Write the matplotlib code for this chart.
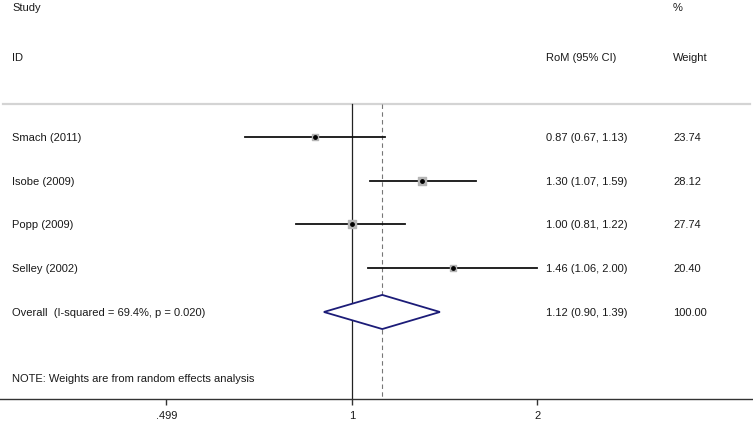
import matplotlib.pyplot as plt
import matplotlib.transforms as mtransforms

# ----------------------------
# Dati
# ----------------------------
studies = ["Smach (2011)", "Isobe (2009)", "Popp (2009)", "Selley (2002)"]
rom = [0.87, 1.30, 1.00, 1.46]
ci_low = [0.67, 1.07, 0.81, 1.06]
ci_high = [1.13, 1.59, 1.22, 2.00]
weights = [23.74, 28.12, 27.74, 20.40]

overall_label = "Overall  (I-squared = 69.4%, p = 0.020)"
overall_rom = 1.12
overall_low = 0.90
overall_high = 1.39
overall_weight = 100.00

xticks = [0.499, 1, 2]
xtick_labels = [".499", "1", "2"]

plt.rcParams["font.family"] = ["Liberation Sans", "DejaVu Sans"]
FS = 8
TXT = "#1a1a1a"

fig = plt.figure(figsize=(7.53, 4.31), dpi=100)
ax = fig.add_axes([0, 31 / 431, 1, 400 / 431])

# scala log: 1 a x=352 px, ~267 px per unita' log
ax.set_xscale("log")
ax.set_xlim(0.2676, 4.49)
ax.set_ylim(5.989, -3.154)

for s in ["top", "left", "right"]:
    ax.spines[s].set_visible(False)
ax.spines["bottom"].set_linewidth(1.0)
ax.spines["bottom"].set_color("#333333")
ax.set_yticks([])
ax.set_xticks(xticks)
ax.set_xticklabels(xtick_labels, fontsize=FS, color=TXT)
ax.xaxis.set_minor_locator(plt.NullLocator())
ax.tick_params(axis="x", direction="out", length=4, width=1.0, color="#333333", pad=4)

trans = mtransforms.blended_transform_factory(ax.transAxes, ax.transData)

x_lab, x_ci, x_w = 12 / 753, 546 / 753, 673 / 753

# intestazioni
ax.text(x_lab, -2.97, "Study", transform=trans, fontsize=FS, color=TXT, va="center")
ax.text(x_w, -2.97, "%", transform=trans, fontsize=FS, color=TXT, va="center")
ax.text(x_lab, -1.83, "ID", transform=trans, fontsize=FS, color=TXT, va="center")
ax.text(x_ci, -1.83, "RoM (95% CI)", transform=trans, fontsize=FS, color=TXT, va="center")
ax.text(x_w, -1.83, "Weight", transform=trans, fontsize=FS, color=TXT, va="center")

# linea grigia sotto intestazioni
ax.plot([0.004, 0.996], [-0.754, -0.754], transform=trans, color="#d4d4d4", lw=1.6)

# linee verticali (nessun effetto e stima complessiva)
y_top, y_bot = -0.754, 5.989
ax.plot([1, 1], [y_top, y_bot], color="#222222", lw=0.9)
ax.plot([overall_rom, overall_rom], [y_top, y_bot], color="#777777", lw=0.8,
        ls=(0, (4, 3)))

# studi
for i, name in enumerate(studies):
    ax.plot([ci_low[i], ci_high[i]], [i, i], color="#111111", lw=1.3)
    ax.scatter(rom[i], i, marker="s", s=weights[i] * 1.0, color="#b5b5b5", zorder=3)
    ax.scatter(rom[i], i, marker="o", s=6, color="black", zorder=4)
    ax.text(x_lab, i, name, transform=trans, fontsize=FS, color=TXT, va="center")
    ax.text(x_ci, i, f"{rom[i]:.2f} ({ci_low[i]:.2f}, {ci_high[i]:.2f})",
            transform=trans, fontsize=FS, color=TXT, va="center")
    ax.text(x_w, i, f"{weights[i]:.2f}", transform=trans, fontsize=FS, color=TXT,
            va="center")

# diamante complessivo
yo = len(studies)
h = 0.39
ax.fill([overall_low, overall_rom, overall_high, overall_rom, overall_low],
        [yo, yo - h, yo, yo + h, yo], facecolor="white", edgecolor="#1c1c78",
        lw=1.3, zorder=3)
ax.text(x_lab, yo, overall_label, transform=trans, fontsize=FS, color=TXT, va="center")
ax.text(x_ci, yo, f"{overall_rom:.2f} ({overall_low:.2f}, {overall_high:.2f})",
        transform=trans, fontsize=FS, color=TXT, va="center")
ax.text(x_w, yo, f"{overall_weight:.2f}", transform=trans, fontsize=FS, color=TXT,
        va="center")

ax.text(x_lab, 5.51, "NOTE: Weights are from random effects analysis", transform=trans,
        fontsize=FS, color=TXT, va="center")

fig.savefig("out.png", dpi=100)
